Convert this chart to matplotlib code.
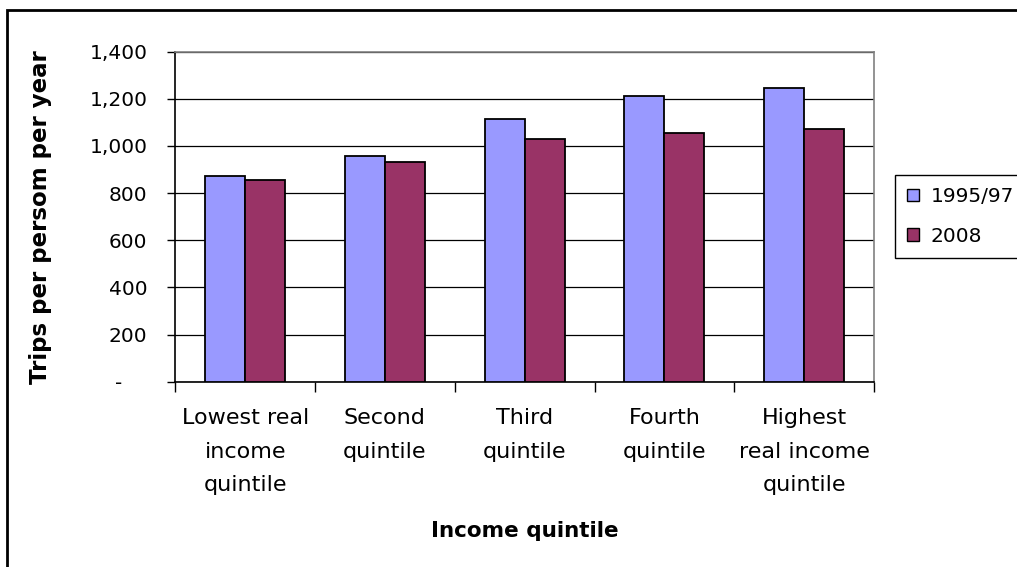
import numpy as np
import matplotlib
matplotlib.use("Agg")
import matplotlib.pyplot as plt
from matplotlib.patches import Rectangle, Patch
from matplotlib.ticker import FuncFormatter

# Trips per person per year by income quintile
categories = ["Lowest real\nincome\nquintile", "Second\nquintile", "Third\nquintile",
              "Fourth\nquintile", "Highest\nreal income\nquintile"]
trips_1995_97 = [873, 956, 1113, 1212, 1245]
trips_2008 = [857, 931, 1031, 1055, 1072]
series_names = ["1995/97", "2008"]
yticks = [0, 200, 400, 600, 800, 1000, 1200, 1400]

blue = "#9999FF"
maroon = "#993366"

fig = plt.figure(figsize=(10.17, 5.67), dpi=100)
ax = fig.add_axes([0.1724, 0.3268, 0.687, 0.582])

x = np.arange(len(categories))
w = 1 / 3.5
ax.bar(x - w / 2, trips_1995_97, width=w, color=blue, edgecolor="black", linewidth=1.3, zorder=3)
ax.bar(x + w / 2, trips_2008, width=w, color=maroon, edgecolor="black", linewidth=1.3, zorder=3)

ax.set_xlim(-0.5, len(categories) - 0.5)
ax.set_ylim(0, 1400)

# y axis: thousands separators, dash for zero
ax.set_yticks(yticks)
ax.yaxis.set_major_formatter(FuncFormatter(lambda v, p: "-    " if v == 0 else f"{int(v):,}"))
ax.tick_params(axis="y", direction="out", length=6, width=1, pad=14, labelsize=14.5)
ax.grid(axis="y", color="black", linewidth=0.9, zorder=0)

# x axis: ticks at category boundaries, labels centred on categories
ax.set_xticks(np.arange(-0.5, len(categories)), labels=[""] * (len(categories) + 1))
ax.tick_params(axis="x", which="major", direction="out", length=7, width=1)
ax.set_xticks(x, labels=categories, minor=True)
ax.tick_params(axis="x", which="minor", length=0, pad=19, labelsize=16)
for lbl in ax.get_xticklabels(minor=True):
    lbl.set_linespacing(1.84)

ax.spines["left"].set_color("black")
ax.spines["bottom"].set_color("black")
ax.spines["top"].set_color("#808080")
ax.spines["right"].set_color("#808080")
for s in ax.spines.values():
    s.set_linewidth(1.2)

ax.set_xlabel("Income quintile", fontsize=15.5, fontweight="bold", labelpad=19)
ax.set_ylabel("Trips per persom per year", fontsize=16.5, fontweight="bold", labelpad=27)

handles = [Patch(facecolor=blue, edgecolor="black", linewidth=1),
           Patch(facecolor=maroon, edgecolor="black", linewidth=1)]
leg = fig.legend(handles, series_names, loc="upper left", bbox_to_anchor=(895 / 1017, 1 - 175 / 567),
                 fontsize=14.5, frameon=True, fancybox=False, edgecolor="black", framealpha=1,
                 handlelength=0.55, handleheight=0.55, handletextpad=0.6, labelspacing=1.0,
                 borderpad=0.62, borderaxespad=0)
leg.get_frame().set_linewidth(1)

# outer chart frame
fig.patches.append(Rectangle((7 / 1017, -0.05), 1.1, 1 - 10 / 567 + 0.05, transform=fig.transFigure,
                             fill=False, edgecolor="black", linewidth=2, zorder=10))

fig.savefig("out.png", dpi=100)
